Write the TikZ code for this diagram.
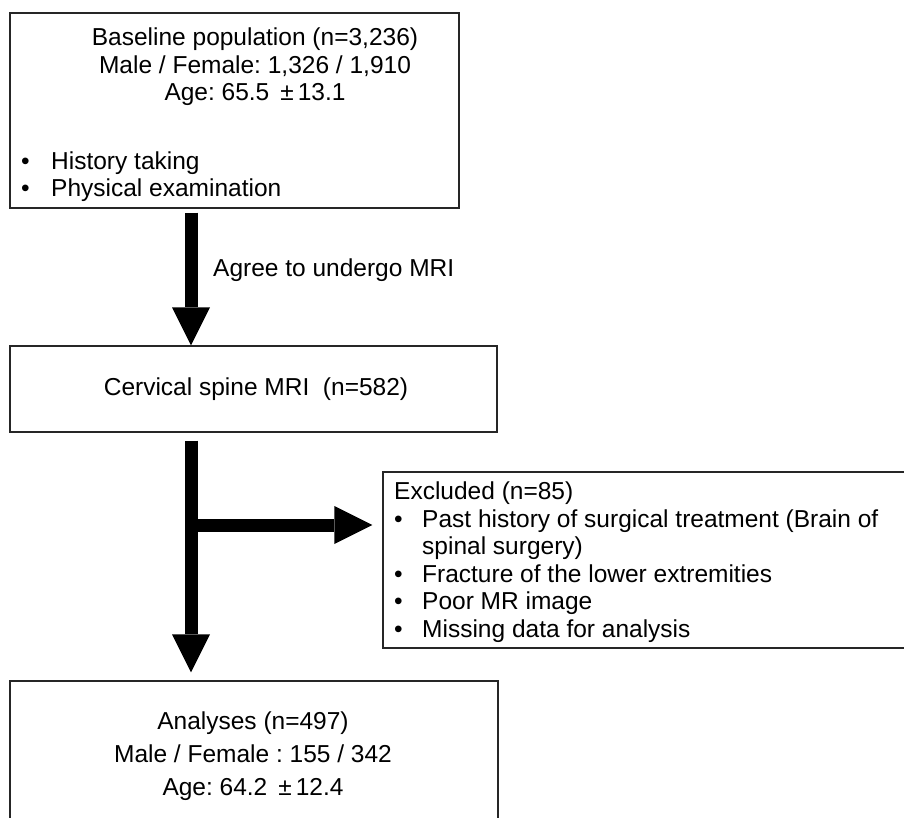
\documentclass[tikz,border=0pt]{standalone}
\usepackage{fontspec}
\setmainfont{Liberation Sans}
\usetikzlibrary{arrows.meta,calc}
\frenchspacing

\tikzstyle{tsText} = [
    text=black,
    font=\fontsize{24.5}{27.5}\selectfont,
    inner sep=0pt
]
\tikzstyle{tsWideText} = [
    tsText,
    font=\fontsize{24.5}{33}\selectfont
]
\tikzstyle{tsBox} = [
    rectangle,
    draw=black!85,
    line width=1.2pt,
    fill=white
]
\tikzstyle{tsBlockArrow} = [
    line width=13pt,
    -{Triangle[length=38pt,width=38pt,line width=0pt]}
]
\newcommand{\tsItem}[1]{\makebox[#1][l]{\textbullet}}

\begin{document}
\begin{tikzpicture}[x=1pt, y=-1pt]
        \useasboundingbox (0,0) rectangle (904,818);

        % boxes
        \node[tsBox, minimum width=449pt, minimum height=195pt] (baseline) at (234.5,110.5) { };
        \node[tsBox, minimum width=487pt, minimum height=86pt] (mri) at (253.5,389) { };
        \node[tsBox, minimum width=540pt, minimum height=176pt] (excluded) at (653,560) { };
        \node[tsBox, minimum width=488pt, minimum height=150pt] (analyses) at (254,756) { };

        % texts
        \node[tsText, align=center] (baselineText) at (255,67) {Baseline population (n=3,236)\\Male / Female: 1,326 / 1,910\\Age: 65.5 \,±\,13.1};
        \node[tsText, align=left, anchor=west] (baselineList) at (21,176.5) {\tsItem{30pt}History taking\\\tsItem{30pt}Physical examination};
        \node[tsText, anchor=west] (agreeLabel) at (213,270) {Agree to undergo MRI};
        \node[tsText] (mriText) at (256,389) {Cervical spine MRI~ (n=582)};
        \node[tsText, align=left, anchor=west] (excludedText) at (394,562) {Excluded (n=85)\\
            \tsItem{28pt}Past history of surgical treatment (Brain of\\
            \hspace*{28pt}spinal surgery)\\
            \tsItem{28pt}Fracture of the lower extremities\\
            \tsItem{28pt}Poor MR image\\
            \tsItem{28pt}Missing data for analysis};
        \node[tsWideText, align=center] (analysesText) at (253,756) {Analyses (n=497)\\Male / Female : 155 / 342\\Age: 64.2 \,±\,12.4};

        % arrows
        \coordinate (axis) at (191,0);
        \coordinate (split) at (191,525);
        \draw[tsBlockArrow] ($(baseline.south -| axis)+(0,4)$) -- (mri.north -| axis);
        \draw[tsBlockArrow] ($(mri.south -| axis)+(0,8)$) -- ($(analyses.north -| axis)+(0,-8)$);
        \draw[tsBlockArrow] (split) -- ($(split -| excluded.west)+(-10,0)$);

\end{tikzpicture}
\end{document}
